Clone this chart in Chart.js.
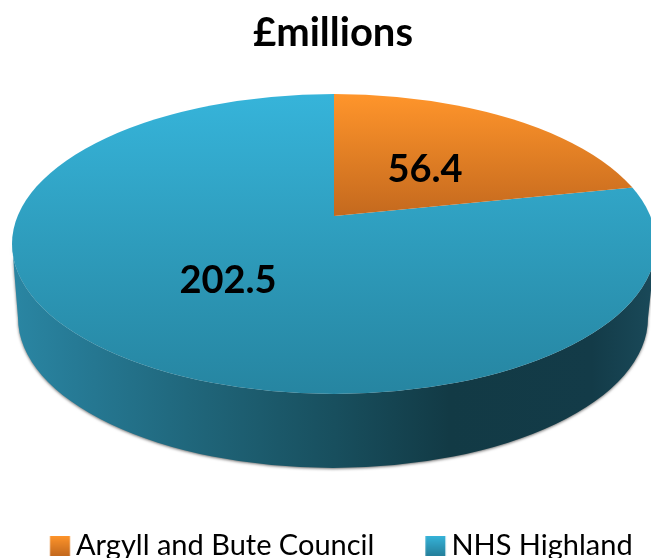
<!DOCTYPE html>
<html>
<head>
<meta charset="utf-8">
<style>
  html, body { margin: 0; padding: 0; background: #fff; overflow: hidden; }
  #wrap { width: 651px; height: 558px; }
</style>
<script src="https://cdn.jsdelivr.net/npm/chart.js@4/dist/chart.umd.min.js"></script>
</head>
<body>
<div id="wrap"><canvas id="pie"></canvas></div>
<script>
const titleText = '£millions';
const categories = ['Argyll and Bute Council', 'NHS Highland'];
const values = [56.4, 202.5];
const sliceColors = ['#E8812A', '#2D9BBB'];

// Geometry of the tilted pie
const FONT = 'Lato, Carlito, sans-serif';
const TOP_FACE = { x: 334, y: 244, rx: 322, ry: 150 };
const BOTTOM_FACE = { x: 333, y: 318, rx: 315, ry: 150 };
const APEX = { x: 334, y: 216 };   // the perspective puts the slice tip above the ellipse centre
const labelSpots = [{ x: 425, y: 170 }, { x: 228, y: 281 }];
const faceGradients = [
  [[94, '#FF952B'], [216, '#C4691E']],
  [[94, '#36B4DA'], [244, '#2E9CBC'], [394, '#2685A1']],
];
const wallGradient = [
  [0.0, '#2A86A3'], [0.1, '#267A95'], [0.3, '#1F6478'], [0.5, '#184F5E'],
  [0.68, '#123A45'], [0.9, '#133B48'], [1.0, '#1A4A5A'],
];

function swatch(colors) {
  // legend icon: chart.js centres the image on the (narrow) legend box
  const c = document.createElement('canvas');
  c.width = 40; c.height = 20;
  const g = c.getContext('2d');
  const grad = g.createLinearGradient(0, 0, 0, 20);
  grad.addColorStop(0, colors[0]);
  grad.addColorStop(1, colors[1]);
  g.fillStyle = grad;
  g.fillRect(14.25, 0, 20, 20);
  return c;
}
const swatches = [swatch(['#FF952B', '#C4691E']), swatch(['#36B4DA', '#25809C'])];

const tiltedPie = {
  id: 'tiltedPie',
  beforeDraw(chart) {
    // title sits a little right of the canvas centre; the legend row is wider than
    // the fit allows, so open it up to keep both items on one line near the bottom edge
    chart.titleBlock.left = 15;
    chart.titleBlock.top = -1;
    chart.legend.left = -1;
    chart.legend.right = 800;
    chart.legend.top = 480;
  },
  beforeDatasetsDraw(chart) {
    const ctx = chart.ctx;
    const arcs = chart.getDatasetMeta(0).data;

    // side wall
    ctx.save();
    ctx.shadowColor = 'rgba(0,0,0,.55)';
    ctx.shadowBlur = 3;
    ctx.shadowOffsetY = 1;
    const wall = ctx.createLinearGradient(TOP_FACE.x - TOP_FACE.rx, 0, TOP_FACE.x + TOP_FACE.rx, 0);
    wallGradient.forEach(s => wall.addColorStop(s[0], s[1]));
    ctx.fillStyle = wall;
    ctx.beginPath();
    ctx.ellipse(TOP_FACE.x, TOP_FACE.y, TOP_FACE.rx, TOP_FACE.ry, 0, 0, Math.PI);
    ctx.lineTo(BOTTOM_FACE.x - BOTTOM_FACE.rx, BOTTOM_FACE.y);
    ctx.ellipse(BOTTOM_FACE.x, BOTTOM_FACE.y, BOTTOM_FACE.rx, BOTTOM_FACE.ry, 0, Math.PI, 0, true);
    ctx.closePath();
    ctx.fill();
    ctx.restore();

    // top face: the library's arcs, squashed, moved to the apex and clipped to the ellipse
    const sx = 1.5 * TOP_FACE.rx / arcs[0].outerRadius;
    const sy = sx * TOP_FACE.ry / TOP_FACE.rx;
    ctx.save();
    ctx.beginPath();
    ctx.ellipse(TOP_FACE.x, TOP_FACE.y, TOP_FACE.rx, TOP_FACE.ry, 0, 0, Math.PI * 2);
    ctx.clip();
    ctx.translate(APEX.x, APEX.y);
    ctx.scale(sx, sy);
    ctx.translate(-arcs[0].x, -arcs[0].y);
    arcs.forEach((arc, i) => {
      const stops = faceGradients[i];
      const toChartY = y => arc.y + (y - APEX.y) / sy;
      const grad = ctx.createLinearGradient(0, toChartY(stops[0][0]), 0, toChartY(stops[stops.length - 1][0]));
      const span = stops[stops.length - 1][0] - stops[0][0];
      stops.forEach(s => grad.addColorStop((s[0] - stops[0][0]) / span, s[1]));
      arc.options = Object.assign({}, arc.options, { backgroundColor: grad });
    });
    // blue first so the orange edge stays clean
    arcs[1].draw(ctx);
    arcs[0].draw(ctx);
    ctx.restore();

    // value labels
    ctx.save();
    ctx.fillStyle = '#000';
    ctx.font = 'bold 38px ' + FONT;
    ctx.textAlign = 'center';
    ctx.textBaseline = 'middle';
    values.forEach((v, i) => ctx.fillText(v.toFixed(1), labelSpots[i].x, labelSpots[i].y));
    ctx.restore();
    return false;
  },
};

new Chart(document.getElementById('pie'), {
  type: 'pie',
  data: {
    labels: categories,
    datasets: [{ data: values, backgroundColor: sliceColors, borderWidth: 0 }],
  },
  options: {
    responsive: true,
    maintainAspectRatio: false,
    animation: false,
    plugins: {
      tooltip: { enabled: false },
      title: {
        display: true,
        text: titleText,
        color: '#000',
        font: { family: FONT, size: 40, weight: 'bold' },
      },
      legend: {
        position: 'bottom',
        align: 'start',
        labels: {
          color: '#000',
          font: { family: FONT, size: 29 },
          padding: 51,
          boxWidth: 11.5,
          usePointStyle: true,
          generateLabels: () => categories.map((name, i) => ({
            text: name,
            pointStyle: swatches[i],
            fontColor: '#000',
            datasetIndex: 0,
            index: i,
          })),
        },
      },
    },
  },
  plugins: [tiltedPie],
});
</script>
</body>
</html>
